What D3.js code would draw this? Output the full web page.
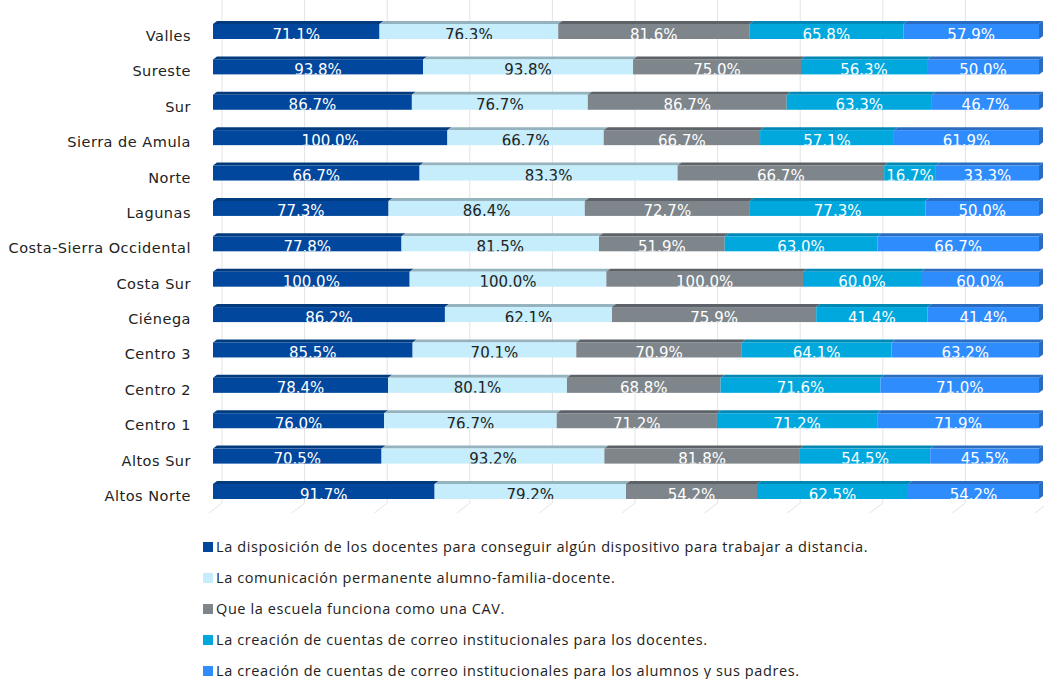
<!DOCTYPE html>
<html>
<head>
<meta charset="utf-8">
<script src="https://cdn.jsdelivr.net/npm/d3@7"></script>
<style>
  body { margin: 0; background: #fff; }
  svg { display: block; }
</style>
</head>
<body>
<div id="chart"></div>
<script>
// categories, top to bottom
var regiones = ['Valles', 'Sureste', 'Sur', 'Sierra de Amula', 'Norte', 'Lagunas',
  'Costa-Sierra Occidental', 'Costa Sur', 'Ciénega', 'Centro 3', 'Centro 2',
  'Centro 1', 'Altos Sur', 'Altos Norte'];

var series = [
  'La disposición de los docentes para conseguir algún dispositivo para trabajar a distancia.',
  'La comunicación permanente alumno-familia-docente.',
  'Que la escuela funciona como una CAV.',
  'La creación de cuentas de correo institucionales para los docentes.',
  'La creación de cuentas de correo institucionales para los alumnos y sus padres.'
];

// one array per series, same order as regiones
var disposicion  = [71.1, 93.8, 86.7, 100.0, 66.7, 77.3, 77.8, 100.0, 86.2, 85.5, 78.4, 76.0, 70.5, 91.7];
var comunicacion = [76.3, 93.8, 76.7, 66.7, 83.3, 86.4, 81.5, 100.0, 62.1, 70.1, 80.1, 76.7, 93.2, 79.2];
var escuelaCAV   = [81.6, 75.0, 86.7, 66.7, 66.7, 72.7, 51.9, 100.0, 75.9, 70.9, 68.8, 71.2, 81.8, 54.2];
var correoDoc    = [65.8, 56.3, 63.3, 57.1, 16.7, 77.3, 63.0, 60.0, 41.4, 64.1, 71.6, 71.2, 54.5, 62.5];
var correoAlum   = [57.9, 50.0, 46.7, 61.9, 33.3, 50.0, 66.7, 60.0, 41.4, 63.2, 71.0, 71.9, 45.5, 54.2];

var colores   = ['#01479d', '#c6edfb', '#7e868c', '#00a8de', '#2f8cfd'];
var coloresTop = ['#013a7d', '#95b3bf', '#5c6267', '#0188b4', '#2a6cc0'];
var textColor = ['#fff', '#222', '#fff', '#fff', '#fff'];

var allSeries = [disposicion, comunicacion, escuelaCAV, correoDoc, correoAlum];

var W = 1044, H = 679;
var svg = d3.select('#chart').append('svg').attr('width', W).attr('height', H);

var x = d3.scaleLinear().domain([0, 1]).range([213, 1039]);
var y = d3.scalePoint().domain(regiones).range([31.5, 491.5]);
var barH = 15, topH = 3, topDx = 4;
var depthX = 9;

// back wall grid lines with a little floor
var ticks = d3.range(0, 1.0001, 0.1);
var grid = svg.append('g');
ticks.forEach(function(t) {
  grid.append('path')
    .attr('d', 'M' + (x(t) + depthX) + ',0 L' + (x(t) + depthX) + ',503 L' + (x(t) - 4) + ',513')
    .attr('fill', 'none')
    .attr('stroke', '#e3e3e3')
    .attr('stroke-width', 1);
});

// build stacked (normalized) rows
var rows = regiones.map(function(r, i) {
  var vals = allSeries.map(function(s) { return s[i]; });
  var total = d3.sum(vals);
  var acc = 0;
  var segs = vals.map(function(v, k) {
    var s = { k: k, v: v, x0: acc / total, x1: (acc + v) / total };
    acc += v;
    return s;
  });
  return { name: r, segs: segs };
});

// category labels
svg.append('g').selectAll('text')
  .data(regiones)
  .join('text')
  .attr('x', 191)
  .attr('y', function(d) { return y(d) + 9.5; })
  .attr('text-anchor', 'end')
  .style('font-family', 'DejaVu Sans, sans-serif')
  .style('font-size', '14.5px')
  .style('letter-spacing', '0.5px')
  .style('fill', '#222')
  .text(function(d) { return d; });

var defs = svg.append('defs');

rows.forEach(function(row, ri) {
  var cy = y(row.name);
  var yTop = cy - barH / 2, yBot = cy + barH / 2;
  var g = svg.append('g');

  row.segs.forEach(function(s) {
    var a = x(s.x0), b = x(s.x1);
    // top face
    g.append('polygon')
      .attr('points', [[a, yTop], [b, yTop], [b + topDx, yTop - topH], [a + topDx, yTop - topH]].join(' '))
      .attr('fill', coloresTop[s.k]);
    // front face
    g.append('rect')
      .attr('x', a).attr('y', yTop)
      .attr('width', b - a).attr('height', barH)
      .attr('fill', colores[s.k]);
  });
  // right side of last segment
  var xe = x(1);
  g.append('polygon')
    .attr('points', [[xe, yTop], [xe + topDx, yTop - topH], [xe + topDx, yBot - topH], [xe, yBot]].join(' '))
    .attr('fill', coloresTop[4]);

  // labels, clipped at the bottom of the bar
  defs.append('clipPath').attr('id', 'clip' + ri)
    .append('rect').attr('x', 200).attr('y', yTop - topH - 4).attr('width', 850).attr('height', barH + topH + 4);

  g.append('g').attr('clip-path', 'url(#clip' + ri + ')')
    .selectAll('text')
    .data(row.segs)
    .join('text')
    .attr('x', function(s) { return (x(s.x0) + x(s.x1)) / 2; })
    .attr('y', yBot + 0.5)
    .attr('text-anchor', 'middle')
    .style('font-family', 'DejaVu Sans, sans-serif')
    .style('font-size', '15px')
    .style('fill', function(s) { return textColor[s.k]; })
    .text(function(s) { return s.v.toFixed(1) + '%'; });
});

// legend
var leg = svg.append('g').selectAll('g')
  .data(series)
  .join('g')
  .attr('transform', function(d, i) { return 'translate(203,' + (547 + i * 31) + ')'; });

leg.append('rect')
  .attr('x', 0).attr('y', -5)
  .attr('width', 10).attr('height', 10)
  .attr('fill', function(d, i) { return colores[i]; });

leg.append('text')
  .attr('x', 13).attr('y', 5)
  .style('font-family', 'Open Sans, sans-serif')
  .style('font-size', '14.5px')
  .style('letter-spacing', '0.6px')
  .style('fill', '#222')
  .text(function(d) { return d; });
</script>
</body>
</html>
